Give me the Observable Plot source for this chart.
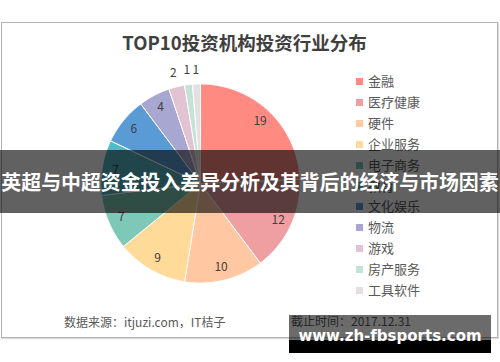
<!DOCTYPE html>
<html><head><meta charset="utf-8">
<script src="https://cdn.jsdelivr.net/npm/d3@7"></script>
<script src="https://cdn.jsdelivr.net/npm/@observablehq/plot@0.6"></script>
<style>
body{margin:0;background:#fff;}
#wrap{position:relative;width:500px;height:362px;overflow:hidden;font-family:"Noto Sans CJK SC","Noto Sans",sans-serif;}
#wrap > *{position:absolute;}
#chart{left:0;top:0;}
#frame{left:1px;top:22px;width:495px;height:314px;border:1px solid #b2b2b2;box-shadow:1px 1px 1px #dcdcdc;background:transparent;}
#title{left:0;top:31px;width:489px;text-align:center;font-weight:bold;font-size:18.5px;line-height:22px;color:#404040;white-space:nowrap;}
.lg{left:356px;height:18px;line-height:18px;font-size:13px;color:#595959;white-space:nowrap;}
.lg i{display:inline-block;width:7px;height:7px;margin-right:5px;vertical-align:middle;position:relative;top:-1px;}
#src{left:64px;top:313px;font-size:12px;line-height:18px;color:#595959;white-space:nowrap;}
#date{left:291px;top:312px;font-size:12px;line-height:18px;color:#595959;white-space:nowrap;}
#banner{left:0;top:150px;width:500px;height:63px;background:rgba(0,0,0,0.62);color:#fff;font-weight:bold;font-size:19.9px;line-height:64px;text-align:center;white-space:nowrap;overflow:visible;}
#wm1{left:289px;top:315px;width:202px;height:25px;background:rgba(0,0,0,0.58);}
#wm2{left:289px;top:340px;width:202px;height:13px;background:#000;}
#wmt{left:289px;top:327px;width:202px;text-align:center;font-family:"DejaVu Sans",sans-serif;font-weight:bold;font-size:15px;line-height:18px;color:#fff;white-space:nowrap;}
</style></head><body><div id="wrap"></div>
<script>
const titleText = "TOP10投资机构投资行业分布";
const categories = ["金融","医疗健康","硬件","企业服务","电子商务","教育","文化娱乐","物流","游戏","房产服务","工具软件"];
const values = [19,12,10,9,7,7,6,4,2,1,1];
const colors = ["#FF8A81","#EF9EA2","#FFC8A2","#FFDA98","#7DC8B6","#56B9C7","#5B9BD5","#A8A7D2","#E2C3D3","#C4E2D6","#E3E0E0"];
const sourceText = "数据来源：itjuzi.com，IT桔子";
const dateText = "截止时间：2017.12.31";
const bannerText = "英超与中超资金投入差异分析及其背后的经济与市场因素";
const watermarkText = "www.zh-fbsports.com";

const arcs = d3.pie().sort(null).value(d => d)(values);
const slicePts = [];
const labels = [];
arcs.forEach((a, i) => {
  const cat = categories[i];
  const n = Math.max(2, Math.ceil((a.endAngle - a.startAngle) / 0.01));
  slicePts.push({cat, x: 0, y: 0});
  for (let k = 0; k <= n; k++) {
    const t = a.startAngle + (a.endAngle - a.startAngle) * k / n;
    slicePts.push({cat, x: Math.sin(t), y: Math.cos(t)});
  }
  slicePts.push({cat, x: 0, y: 0});
  const mid = (a.startAngle + a.endAngle) / 2;
  const r = a.data <= 2 ? 1.145 : 0.865;
  labels.push({x: r * Math.sin(mid), y: r * Math.cos(mid), text: String(a.data)});
});

const chart = Plot.plot({
  width: 500, height: 362,
  marginLeft: 100.5, marginRight: 200.5, marginTop: 83.5, marginBottom: 79.5,
  x: {domain: [-1, 1], axis: null},
  y: {domain: [-1, 1], axis: null},
  color: {domain: categories, range: colors},
  style: {background: "transparent", fontFamily: "'Noto Sans CJK SC', 'Noto Sans', sans-serif"},
  marks: [
    Plot.line(slicePts, {x: "x", y: "y", z: "cat", fill: "cat", stroke: "white", strokeWidth: 1, strokeLinejoin: "round"}),
    Plot.text(labels, {x: "x", y: "y", text: "text", fontSize: 12, fill: "#404040"})
  ]
});
chart.id = "chart";
const wrap = document.getElementById("wrap");
wrap.appendChild(chart);

function add(id, text, cls) {
  const d = document.createElement("div");
  if (id) d.id = id;
  if (cls) d.className = cls;
  if (text != null) d.textContent = text;
  wrap.appendChild(d);
  return d;
}
add("frame");
add("title", titleText);
categories.forEach((c, i) => {
  const d = add(null, null, "lg");
  d.style.top = (81 + i * 20.9 - 9) + "px";
  const sw = document.createElement("i");
  sw.style.background = colors[i];
  d.appendChild(sw);
  d.appendChild(document.createTextNode(c));
});
add("src", sourceText);
add("date", dateText);
add("banner", bannerText);
add("wm1");
add("wm2");
add("wmt", watermarkText);
</script></body></html>
